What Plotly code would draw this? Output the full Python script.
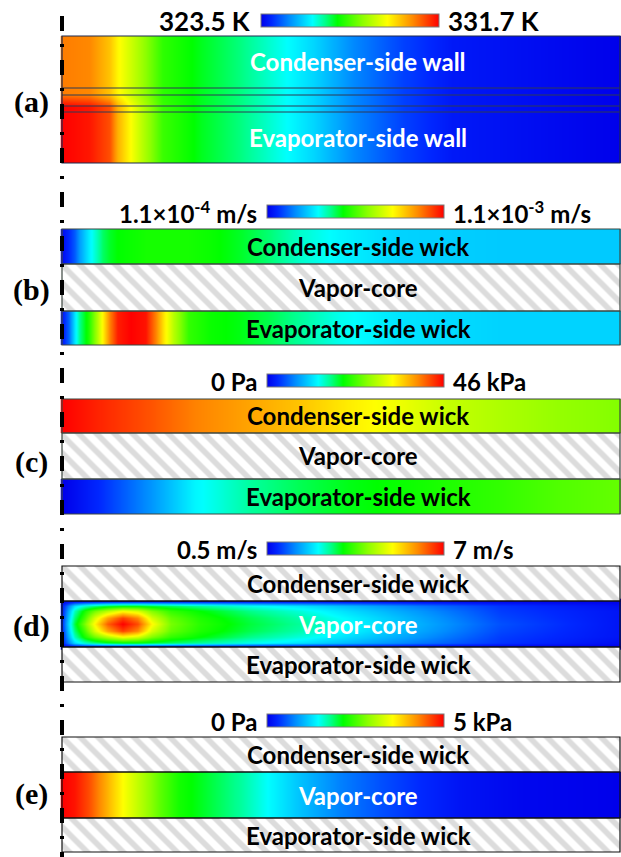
import plotly.graph_objects as go

W, H = 621, 857
X_LEFT, X_RIGHT = 62, 620          # pixel extent of the pipe along its length
PAD = 1.5                          # keeps outline strokes inside the clip box

RAINBOW = [
    [0.00, "rgb(0,0,235)"], [0.06, "rgb(0,40,255)"], [0.16, "rgb(0,140,255)"],
    [0.29, "rgb(0,255,255)"], [0.36, "rgb(0,255,140)"], [0.43, "rgb(0,255,0)"],
    [0.57, "rgb(140,255,0)"], [0.71, "rgb(255,255,0)"], [0.85, "rgb(255,140,0)"],
    [1.00, "rgb(255,0,0)"],
]

# ---------------- data (position = fraction of pipe length) ----------------
# (a) wall temperature, K
a_pos = [0, 0.05, 0.085, 0.10, 0.14, 0.18, 0.25, 0.32, 0.40, 0.45, 0.52, 0.61, 0.70, 0.80, 1.0]
a_cond_wall = [330.6, 330.5, 329.9, 329.4, 328.4, 327.4, 326.9, 326.5, 325.9, 325.5,
               324.8, 324.2, 323.8, 323.7, 323.5]
a_evap_wall = [331.7, 331.5, 331.0, 330.1, 328.7, 327.5, 326.9, 326.5, 325.9, 325.5,
               324.8, 324.2, 323.8, 323.7, 323.5]

# (b) liquid velocity in the wicks, 1e-4 m/s
b_pos = [0, 0.011, 0.022, 0.032, 0.047, 0.061, 0.073, 0.086, 0.100, 0.122, 0.149, 0.167,
         0.181, 0.199, 0.226, 0.265, 0.319, 0.373, 0.427, 0.498, 0.606, 0.785, 1.0]
b_cond_wick = [1.3, 1.69, 2.19, 2.88, 3.77, 4.37, 4.86, 5.16, 5.36, 5.46, 5.56, 5.56,
               5.56, 5.56, 5.56, 5.46, 5.16, 4.76, 4.27, 3.87, 3.48, 3.38, 3.38]
b_evap_wick = [1.5, 2.29, 3.67, 4.66, 5.65, 7.04, 8.23, 9.61, 10.7, 11.0, 10.8, 9.61,
               8.43, 7.24, 5.85, 5.46, 5.26, 4.96, 4.57, 4.07, 3.67, 3.48, 3.48]

# (c) liquid pressure in the wicks, kPa
c_pos = [0, 0.068, 0.158, 0.238, 0.337, 0.427, 0.516, 0.606, 0.695, 0.785, 0.892, 1.0]
c_cond_wick = [46.0, 44.2, 41.9, 39.6, 37.7, 35.9, 33.6, 31.7, 29.4, 28.1, 26.7, 25.8]
c_evap_wick = [0.0, 2.8, 7.8, 12.9, 16.1, 17.9, 19.3, 20.2, 21.2, 22.1, 23.5, 24.4]

# (d) vapor velocity in the core, m/s; rows run from the evaporator-side
#     edge of the core to the condenser-side edge
d_pos = [0, 0.011, 0.023, 0.041, 0.059, 0.081, 0.108, 0.136, 0.161, 0.194, 0.247,
         0.337, 0.427, 0.516, 0.642, 0.785, 1.0]
d_row_frac = [0, 0.10, 0.22, 0.36, 0.50, 0.64, 0.78, 0.90, 1.0]
d_edge = [0.5] * 17
d_near = [0.83, 1.48, 2.13, 2.58, 2.84, 3.10, 3.23, 3.23, 3.10, 2.97, 2.78, 2.45, 2.19,
          1.87, 1.41, 0.96, 0.63]
d_mid = [0.89, 1.80, 2.65, 3.43, 4.01, 4.53, 5.05, 4.79, 4.14, 3.62, 3.30, 2.84, 2.52,
         2.13, 1.61, 1.02, 0.70]
d_inner = [0.96, 2.00, 2.91, 3.75, 4.79, 5.83, 6.55, 6.03, 4.79, 3.95, 3.49, 3.04, 2.71,
           2.32, 1.74, 1.09, 0.70]
d_center = [1.02, 2.13, 3.10, 4.08, 5.18, 6.35, 7.00, 6.48, 5.18, 4.08, 3.56, 3.10, 2.78,
            2.39, 1.80, 1.15, 0.70]
d_field = [d_edge, d_near, d_mid, d_inner, d_center, d_inner, d_mid, d_near, d_edge]

# (e) vapor pressure in the core, kPa
e_pos = [0, 0.023, 0.047, 0.068, 0.090, 0.108, 0.140, 0.176, 0.208, 0.265, 0.319, 0.369,
         0.427, 0.498, 0.570, 0.642, 0.713, 0.821, 1.0]
e_vapor = [5.0, 4.9, 4.6, 4.25, 3.85, 3.55, 3.1, 2.6, 2.25, 2.0, 1.75, 1.45, 1.1, 0.75,
           0.5, 0.3, 0.15, 0.05, 0.0]

# colour-bar end labels
bar_labels = [
    ("323.5 K", "331.7 K"),
    ("1.1×10<sup>-4</sup> m/s", "1.1×10<sup>-3</sup> m/s"),
    ("0 Pa", "46 kPa"),
    ("0.5 m/s", "7 m/s"),
    ("0 Pa", "5 kPa"),
]
color_ranges = [(323.5, 331.7), (1.1, 11.0), (0.0, 46.0), (0.5, 7.0), (0.0, 5.0)]
panel_tags = ["(a)", "(b)", "(c)", "(d)", "(e)"]

# ---------------- geometry (pixels) ----------------
# panel top / bottom, and layer boundaries measured upward from the panel bottom
panels = [
    dict(top=36, bot=163, edges=[0, 51, 57, 68, 75, 127]),
    dict(top=229, bot=345, edges=[0, 34, 81, 116]),
    dict(top=399, bot=514, edges=[0, 35, 81, 115]),
    dict(top=566, bot=682, edges=[0, 35, 81, 116]),
    dict(top=737, bot=852, edges=[0, 34, 80, 115]),
]
bars = [  # x0, x1, top of colour strip
    (261, 439, 14), (267, 444, 205), (267, 444, 374), (267, 444, 542), (267, 444, 714),
]
bar_font_size = [26, 24, 24, 24, 24]
tag_y = [102, 290, 462, 626, 794]

LABEL_FONT = dict(family="Lato", size=24, weight="bold")
TAG_FONT = dict(family="Liberation Serif", size=30, weight="bold", color="black")
LABEL_X = (358 - X_LEFT) / (X_RIGHT - X_LEFT)

fig = go.Figure()
layout = dict(width=W, height=H, margin=dict(l=0, r=0, t=0, b=0),
              paper_bgcolor="white", plot_bgcolor="rgba(0,0,0,0)", showlegend=False)
shapes, annotations = [], []
xspan = X_RIGHT - X_LEFT
x_dom_lo = X_LEFT - PAD
x_dom_hi = min(W, X_RIGHT + PAD)


def ax_names(i):
    s = "" if i == 0 else str(i + 1)
    return "x" + s, "y" + s, "xaxis" + s, "yaxis" + s, "coloraxis" + s


def band(i, xs, rows, y_edges):
    xa, ya, _, _, ca = ax_names(i)
    fig.add_trace(go.Heatmap(x=xs, y=y_edges, z=rows, xaxis=xa, yaxis=ya, coloraxis=ca,
                             zsmooth="best", hoverinfo="skip"))


def hatch(i, y0, y1):
    xa, ya, _, _, _ = ax_names(i)
    fig.add_trace(go.Scatter(
        x=[0, 1, 1, 0, 0], y=[y0, y0, y1, y1, y0], xaxis=xa, yaxis=ya, mode="lines",
        line=dict(width=0), fill="toself", fillcolor="white",
        fillpattern=dict(shape="\\", fgcolor="#bababa", bgcolor="white", size=12.7,
                         solidity=0.45),
        hoverinfo="skip", showlegend=False))


def outline(i, y0, y1, color="#333333"):
    xa, ya, _, _, _ = ax_names(i)
    shapes.append(dict(type="rect", xref=xa, yref=ya, x0=0, x1=1, y0=y0, y1=y1,
                       line=dict(color=color, width=1.2), layer="above"))


def label(i, y, text, color):
    xa, ya, _, _, _ = ax_names(i)
    annotations.append(dict(xref=xa, yref=ya, x=LABEL_X, y=y, text=text, showarrow=False,
                            xanchor="center", yanchor="middle",
                            font=dict(color=color, **LABEL_FONT)))


for i, p in enumerate(panels):
    xa, ya, xk, yk, ck = ax_names(i)
    hgt = p["bot"] - p["top"]
    layout[xk] = dict(domain=[x_dom_lo / W, x_dom_hi / W],
                      range=[(x_dom_lo - X_LEFT) / xspan, (x_dom_hi - X_LEFT) / xspan],
                      visible=False, fixedrange=True)
    layout[yk] = dict(domain=[1 - (p["bot"] + PAD) / H, 1 - (p["top"] - PAD) / H],
                      range=[-PAD, hgt + PAD], visible=False, fixedrange=True)
    bx0, bx1, btop = bars[i]
    cmin, cmax = color_ranges[i]
    layout[ck] = dict(colorscale=RAINBOW, cmin=cmin, cmax=cmax, colorbar=dict(
        orientation="h", x=bx0 / W, xanchor="left", y=1 - btop / H, yanchor="top",
        len=bx1 - bx0, lenmode="pixels", thickness=13, thicknessmode="pixels",
        outlinewidth=1, outlinecolor="#7a7a7a", showticklabels=False, ticks="",
        xpad=0, ypad=0))
    lo_txt, hi_txt = bar_labels[i]
    ymid = 1 - (btop + 7) / H
    bfont = dict(family="Lato", size=bar_font_size[i], weight="bold", color="black")
    annotations.append(dict(xref="paper", yref="paper", x=(bx0 - 8) / W, y=ymid,
                            text=lo_txt, showarrow=False, xanchor="right", yanchor="middle",
                            font=bfont))
    annotations.append(dict(xref="paper", yref="paper", x=(bx1 + 7) / W, y=ymid,
                            text=hi_txt, showarrow=False, xanchor="left", yanchor="middle",
                            font=bfont))
    annotations.append(dict(xref="paper", yref="paper", x=31 / W, y=1 - tag_y[i] / H,
                            text=panel_tags[i], showarrow=False, xanchor="center",
                            yanchor="middle", font=TAG_FONT))

# (a) walls with the thin wick / vapour layers between them
e = panels[0]["edges"]
band(0, a_pos, [a_evap_wall, a_cond_wall], [e[1], (e[1] + e[4]) / 2, e[4]])
band(0, a_pos, [a_evap_wall, a_evap_wall], [e[0], (e[0] + e[1]) / 2, e[1]])
band(0, a_pos, [a_cond_wall, a_cond_wall], [e[4], (e[4] + e[5]) / 2, e[5]])
for k in range(1, 5):
    shapes.append(dict(type="line", xref="x", yref="y", x0=0, x1=1, y0=e[k], y1=e[k],
                       line=dict(color="#2e3a55", width=1), layer="above"))
outline(0, e[0], e[5], "#1c2a50")
label(0, (e[4] + e[5]) / 2, "Condenser-side wall", "white")
label(0, (e[0] + e[1]) / 2, "Evaporator-side wall", "white")

# (b) and (c): liquid fields in the two wicks, vapour core hatched
for i, pos, cond, evap in [(1, b_pos, b_cond_wick, b_evap_wick),
                           (2, c_pos, c_cond_wick, c_evap_wick)]:
    e = panels[i]["edges"]
    band(i, pos, [evap, evap], [e[0], (e[0] + e[1]) / 2, e[1]])
    band(i, pos, [cond, cond], [e[2], (e[2] + e[3]) / 2, e[3]])
    hatch(i, e[1], e[2])
    for k in range(3):
        outline(i, e[k], e[k + 1], "#3c4640")
    label(i, (e[2] + e[3]) / 2, "Condenser-side wick", "black")
    label(i, (e[1] + e[2]) / 2, "Vapor-core", "black")
    label(i, (e[0] + e[1]) / 2, "Evaporator-side wick", "black")

# (d) vapour velocity field in the core
e = panels[3]["edges"]
d_y = [e[1] + f * (e[2] - e[1]) for f in d_row_frac]
xa, ya, _, _, ca = ax_names(3)
fig.add_trace(go.Heatmap(x=d_pos, y=d_y, z=d_field, xaxis=xa, yaxis=ya, coloraxis=ca,
                         zsmooth="best", hoverinfo="skip"))

# (e) vapour pressure in the core
e = panels[4]["edges"]
band(4, e_pos, [e_vapor, e_vapor], [e[1], (e[1] + e[2]) / 2, e[2]])

for i in (3, 4):
    e = panels[i]["edges"]
    hatch(i, e[0], e[1])
    hatch(i, e[2], e[3])
    for k in range(3):
        outline(i, e[k], e[k + 1], "#111111")
    label(i, (e[2] + e[3]) / 2, "Condenser-side wick", "black")
    label(i, (e[1] + e[2]) / 2, "Vapor-core", "white")
    label(i, (e[0] + e[1]) / 2, "Evaporator-side wick", "black")

# symmetry axis at the closed end of the pipe
shapes.append(dict(type="line", xref="paper", yref="paper", x0=62 / W, x1=62 / W,
                   y0=1 - 16 / H, y1=0, layer="above",
                   line=dict(color="black", width=4, dash="15px,13px,3px,13px")))

layout["shapes"] = shapes
layout["annotations"] = annotations
fig.update_layout(**layout)
fig.write_html("out.html")
